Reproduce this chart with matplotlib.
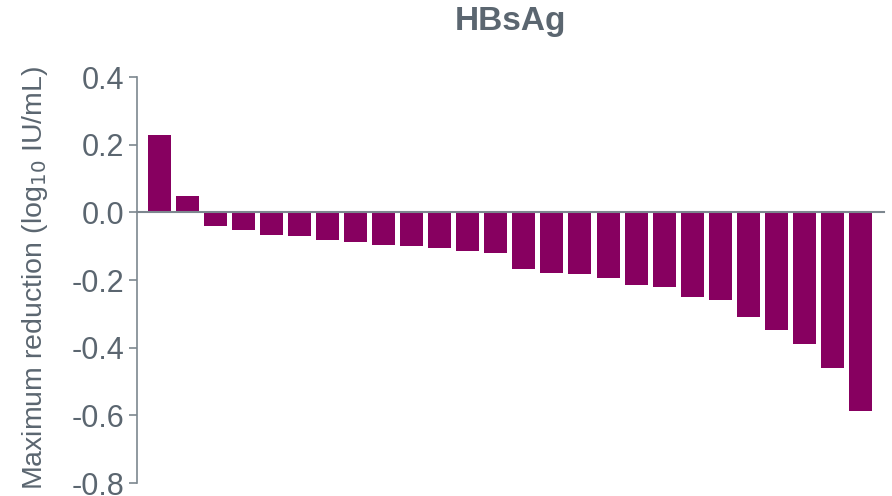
import matplotlib.pyplot as plt
import numpy as np

# Maximum reduction per patient (log10 IU/mL), sorted
reduction = [0.228, 0.048, -0.039, -0.051, -0.066, -0.069, -0.081, -0.087, -0.096,
             -0.099, -0.104, -0.113, -0.119, -0.166, -0.178, -0.181, -0.193, -0.214,
             -0.220, -0.249, -0.258, -0.309, -0.349, -0.389, -0.461, -0.586]
yticks = [0.4, 0.2, 0.0, -0.2, -0.4, -0.6, -0.8]

bar_color = '#870060'
grey_text = '#5b6670'
grey_axis = '#7d878f'

plt.rcParams['font.family'] = ['Liberation Sans', 'DejaVu Sans']

fig = plt.figure(figsize=(8.92, 4.96), dpi=100)
ax = fig.add_axes([0.1536, 0.0262, 0.8374, 0.8185])

x = np.arange(len(reduction))
ax.bar(x, reduction, width=0.82, color=bar_color)

ax.set_ylim(-0.8, 0.4)
ax.set_xlim(-0.795, 25.84)
ax.set_yticks(yticks)
ax.set_yticklabels(['%.1f' % v for v in yticks])
ax.set_xticks([])

# Оси
for name, spine in ax.spines.items():
    if name == 'left':
        spine.set_color(grey_axis)
        spine.set_linewidth(1.2)
    elif name == 'bottom':
        spine.set_position(('data', 0))
        spine.set_color(grey_axis)
        spine.set_linewidth(1.5)
    else:
        spine.set_visible(False)

ax.tick_params(axis='y', direction='out', length=6, width=1.2, color=grey_axis,
               labelcolor=grey_text, labelsize=22, pad=3)

ax.set_ylabel('Maximum reduction (log$_{10}$ IU/mL)', fontsize=20.5, color=grey_text)
ax.yaxis.set_label_coords(-0.117, 0.505)
fig.text(0.572, 0.956, 'HBsAg', fontsize=24, fontweight='bold', color=grey_text,
         ha='center', va='center')

fig.savefig('out.png', dpi=100)
